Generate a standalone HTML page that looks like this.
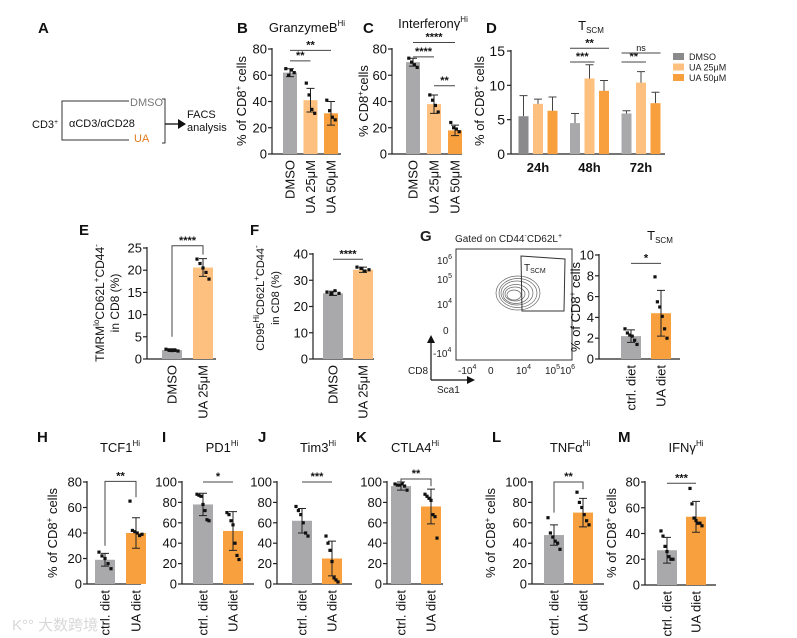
<!DOCTYPE html>
<html><head><meta charset="utf-8">
<style>
html,body{margin:0;padding:0;background:#fff;}
svg{display:block;font-family:"Liberation Sans",Arial,sans-serif;}
</style></head>
<body>
<svg id="fig" width="797" height="638" viewBox="0 0 797 638" xmlns="http://www.w3.org/2000/svg">
<g font-size="11" fill="#111">
  <text x="38" y="33" font-size="15" font-weight="bold">A</text>
  <text x="32" y="128">CD3<tspan font-size="7" dy="-4">+</tspan></text>
  <path d="M129,101 H62 V140 H129" fill="none" stroke="#333" stroke-width="1"/>
  <text x="69" y="127">αCD3/αCD28</text>
  <text x="130" y="106" fill="#777">DMSO</text>
  <text x="134" y="142" fill="#e07b1c">UA</text>
  <path d="M162,99 H165 V143 H162" fill="none" stroke="#333"/>
  <path d="M165,124 H178" stroke="#111" stroke-width="1.3"/>
  <path d="M178,119 L186,124 L178,129 Z" fill="#111"/>
  <text x="187" y="118">FACS</text>
  <text x="187" y="131">analysis</text>
</g>
<g font-size="10" fill="#222">
  <text x="420" y="241" font-size="15" font-weight="bold">G</text>
  <text x="455" y="242" font-size="10">Gated on CD44<tspan font-size="7" dy="-4">-</tspan><tspan dy="4">CD62L</tspan><tspan font-size="7" dy="-4">+</tspan></text>
  <rect x="456" y="249" width="116" height="111" fill="none" stroke="#333"/>
  <g fill="none" stroke="#666" stroke-width="0.7">
    <ellipse cx="518" cy="293" rx="22" ry="17"/><ellipse cx="518" cy="293" rx="19" ry="14.5"/>
    <ellipse cx="517" cy="293" rx="16" ry="12"/><ellipse cx="516" cy="294" rx="13" ry="9.5"/>
    <ellipse cx="515" cy="294" rx="10" ry="7"/><ellipse cx="514" cy="295" rx="7" ry="5"/>
  </g>
  <path d="M521,256 L565,259 L564,311 L522,311 Z" fill="none" stroke="#333"/>
  <text x="524" y="271" font-size="10">T<tspan font-size="7" dy="2">SCM</tspan></text>
  <text x="437" y="264">10<tspan font-size="7" dy="-5">6</tspan></text>
  <text x="437" y="283">10<tspan font-size="7" dy="-5">5</tspan></text>
  <text x="437" y="308">10<tspan font-size="7" dy="-5">4</tspan></text>
  <text x="443" y="334">0</text>
  <text x="433" y="357">-10<tspan font-size="7" dy="-5">4</tspan></text>
  <text x="458" y="374">-10<tspan font-size="7" dy="-5">4</tspan></text>
  <text x="488" y="374">0</text>
  <text x="516" y="374">10<tspan font-size="7" dy="-5">4</tspan></text>
  <text x="545" y="374">10<tspan font-size="7" dy="-5">5</tspan><tspan dy="5">10</tspan><tspan font-size="7" dy="-5">6</tspan></text>
  <path d="M431,380 V340" stroke="#111" stroke-width="1.2"/>
  <path d="M427,343 L431,335 L435,343 Z" fill="#111"/>
  <path d="M431,380 H470" stroke="#111" stroke-width="1.2"/>
  <path d="M467,376 L475,380 L467,384 Z" fill="#111"/>
  <text x="408" y="374">CD8</text>
  <text x="437" y="393">Sca1</text>
</g>
<text x="12" y="630" font-size="15" fill="#d8d8d8" font-family="'Liberation Sans','Noto Sans CJK SC',sans-serif">K°° 大数跨境</text>
</svg>
<script>
// ---------- data ----------
const bCats=["DMSO","UA 25μM","UA 50μM"];
const bVals=[62,41,31];
const bErr=[3,9,9];
const bPts=[[65,60,64,62],[54,45,34,31],[41,33,28,26]];
const cCats=["DMSO","UA 25μM","UA 50μM"];
const cVals=[70,38,18];
const cErr=[3,7,4];
const cPts=[[73,70,68,66],[45,41,37,32],[24,20,19,17]];
const dGroups=["24h","48h","72h"];
const dSeries=["DMSO","UA 25μM","UA 50μM"];
const dVals=[[5.5,7.3,6.3],[4.5,11,9.2],[5.9,10.4,7.4]];
const dErr=[[3,0.7,2],[1.4,2,1.5],[0.4,1.6,1.6]];
const eCats=["DMSO","UA 25μM"];
const eVals=[2,20.6];
const eErr=[0.3,2];
const ePts=[[2.2,2,1.9,2,1.8],[22.5,21.5,20.5,19.5,18]];
const fCats=["DMSO","UA 25μM"];
const fVals=[25,34];
const fErr=[0.8,1];
const fPts=[[25.5,25,26,25],[35,34.5,33.5,34]];
const gCats=["ctrl. diet","UA diet"];
const gVals=[2.2,4.4];
const gErr=[0.6,2.2];
const gPts=[[2.9,2.5,2.3,2.2,1.8,1.4],[7.9,5.5,5,4.1,2.9,2]];
const hCats=["ctrl. diet","UA diet"];
const hVals=[19,40];
const hErr=[5,12];
const hPts=[[25,22,20,16,12],[65,42,41,40,38,39]];
const iCats=["ctrl. diet","UA diet"];
const iVals=[78,52];
const iErr=[11,19];
const iPts=[[88,87,86,78,72,63,62],[70,68,62,58,40,28,24]];
const jCats=["ctrl. diet","UA diet"];
const jVals=[62,25];
const jErr=[12,17];
const jPts=[[76,72,68,60,50,47],[47,40,33,22,6,4,2]];
const kCats=["ctrl. diet","UA diet"];
const kVals=[96,76];
const kErr=[4,17];
const kPts=[[98,97,97,98,96,92],[88,86,84,82,68,66,45]];
const lCats=["ctrl. diet","UA diet"];
const lVals=[48,70];
const lErr=[10,14];
const lPts=[[65,50,46,42,40,34],[90,80,75,68,62,58]];
const mCats=["ctrl. diet","UA diet"];
const mVals=[27,53];
const mErr=[10,12];
const mPts=[[42,38,30,26,22,20,20],[75,63,52,50,48,48,46]];

const GRAY="#a9a9ac", LIGHT="#fdc07e", ORANGE="#f8a03e";
const NS="http://www.w3.org/2000/svg";
const svg=document.getElementById('fig');
function mk(tag,attrs,parent){const e=document.createElementNS(NS,tag);for(const k in attrs)e.setAttribute(k,attrs[k]);(parent||svg).appendChild(e);return e;}
function txt(parent,x,y,s,attrs){const t=mk('text',Object.assign({x:x,y:y},attrs||{}),parent);t.textContent=s;return t;}

function panel(cfg){
  const g=mk('g',{});
  
  
  const y=v=>cfg.y0-(v/cfg.max)*(cfg.y0-cfg.yTop);
  const xc=i=>cfg.x0+cfg.pad+i*cfg.step;
  const ya=mk('line',{x1:cfg.x0,y1:cfg.yTop-1,x2:cfg.x0,y2:cfg.y0,stroke:'#222','stroke-width':1.2},g);
  
  
  const xa=mk('line',{x1:cfg.x0,y1:cfg.y0,x2:cfg.x1,y2:cfg.y0,stroke:'#222','stroke-width':1.2},g);
  
  
  cfg.ticks.forEach(t=>{
    const l=mk('line',{x1:cfg.x0-4,y1:y(t),x2:cfg.x0,y2:y(t),stroke:'#222','stroke-width':1.2},g);
    
    
    const tl=txt(g,cfg.x0-5,y(t)+4.5,String(t),{'font-size':cfg.fs||13,'text-anchor':'end',fill:'#111'});
    
    
  });
  cfg.vals.forEach((v,i)=>{
    const cx=xc(i), w=cfg.bw;
    const r=mk('rect',{x:cx-w/2,y:y(v),width:w,height:cfg.y0-y(v),fill:cfg.colors[i]},g);
    
    
    const e=cfg.err[i];
    const ep=mk('path',{d:`M${cx},${y(v-e)}V${y(v+e)}M${cx-4},${y(v+e)}H${cx+4}M${cx-4},${y(v-e)}H${cx+4}`,stroke:'#222','stroke-width':1,fill:'none'},g);
    
    
    const pts=cfg.pts[i];
    pts.forEach((p,k)=>{
      const off=(k-(pts.length-1)/2)*(w*0.6/Math.max(pts.length-1,1));
      const d=mk('rect',{x:cx+off-1.6,y:y(p)-1.6,width:3.2,height:3.2,fill:'#111'},g);
      
      
    });
    const lab=txt(g,0,0,cfg.cats[i],{'font-size':cfg.fs||13,'text-anchor':'end',fill:'#111',transform:`translate(${cx+4.5},${cfg.y0+6}) rotate(-90)`});
    
    
  });
  (cfg.sig||[]).forEach(s=>{
    const a=xc(s[0]), b=xc(s[1]), yy=y(s[2]);
    let d=`M${a},${yy}H${b}`;
    if(s[4]) d=`M${a},${y(s[4])}V${yy}H${b}V${y(s[5])}`;
    const p=mk('path',{d:d,stroke:'#444','stroke-width':1,fill:'none'},g);
    
    
    const t=txt(g,(a+b)/2,yy-2,s[3],{'font-size':11,'text-anchor':'middle',fill:'#111','font-weight':'bold'});
    
    
  });
  return g;
}
function title(x,y,main,sup,name,sub){
  const t=mk('text',{x:x,y:y,'font-size':13,'text-anchor':'middle',fill:'#111'});
  
  
  t.appendChild(document.createTextNode(main));
  const ts=mk('tspan',{'font-size':8,dy:sub?3:-6},t);ts.textContent=sup;
}
function letter(x,y,s){const t=txt(svg,x,y,s,{'font-size':15,'font-weight':'bold',fill:'#111'});
  
  }
function ylab(x,cy,name,lines,fs){
  const t=mk('text',{'font-size':fs||13,'text-anchor':'middle',fill:'#111',transform:`translate(${x},${cy}) rotate(-90)`});
  
  
  lines.forEach(seg=>{const s=mk('tspan',seg[1]?{'font-size':8,dy:-5}:{dy:seg[2]||0},t);s.textContent=seg[0];});
}
const pct=[["% of CD8"],["+",1],[" cells",0,5]];

letter(237,33,"B"); title(307,32,"GranzymeB","Hi","title-b");
panel({name:'panel-b-granzyme',cats:bCats,vals:bVals,err:bErr,pts:bPts,x0:272,x1:341,pad:18,step:20.5,bw:14,y0:154,yTop:49,max:80,ticks:[0,20,40,60,80],colors:[GRAY,LIGHT,ORANGE],
 sig:[[0,1,71,"**"],[0,2,79,"**"]]});
ylab(246,101,'y-axis-title-b',pct);
letter(363,33,"C"); title(433,28,"Interferonγ","Hi","title-c");
panel({name:'panel-c-interferon',cats:cCats,vals:cVals,err:cErr,pts:cPts,x0:392,x1:462,pad:21,step:21,bw:14,y0:154,yTop:49,max:80,ticks:[0,20,40,60,80],colors:[GRAY,LIGHT,ORANGE],
 sig:[[0,2,85,"****"],[0,1,74,"****"],[1,2,52,"**"]]});
ylab(368,101,'y-axis-title-c',[["% CD8"],["+",1],["cells",0,5]]);
letter(486,33,"D");
(function(){
  const g=mk('g',{});
  
  
  const x0=511,x1=665,y0=154,yTop=51,max=15,pad=27,gstep=51.5,off=14.5,bw=10;
  const y=v=>y0-(v/max)*(y0-yTop);
  const cols=[["#8a8a8c",LIGHT,ORANGE],[GRAY,LIGHT,ORANGE],[GRAY,LIGHT,ORANGE]];
  mk('line',{x1:x0,y1:yTop-1,x2:x0,y2:y0,stroke:'#222','stroke-width':1.2},g);
  mk('line',{x1:x0,y1:y0,x2:x1,y2:y0,stroke:'#222','stroke-width':1.2},g);
  [0,5,10,15].forEach(t=>{mk('line',{x1:x0-4,y1:y(t),x2:x0,y2:y(t),stroke:'#222','stroke-width':1.2},g);
    txt(g,x0-6,y(t)+5,String(t),{'font-size':14,'text-anchor':'end',fill:'#111'});});
  dGroups.forEach((gr,gi)=>{
    const gc=x0+pad+gi*gstep;
    const gl=txt(g,gc,y0+18,gr,{'font-size':13,'text-anchor':'middle',fill:'#111','font-weight':'bold'});
    
    
    dVals[gi].forEach((v,k)=>{
      const cx=gc+(k-1)*off;
      const r=mk('rect',{x:cx-bw/2,y:y(v),width:bw,height:y0-y(v),fill:cols[gi][k]},g);
      
      
      const e=dErr[gi][k];
      const p=mk('path',{d:`M${cx},${y(v)}V${y(v+e)}M${cx-4},${y(v+e)}H${cx+4}`,stroke:'#444','stroke-width':1,fill:'none'},g);
      
      
    });
  });
  const sig=[[1,0,1,13.4,"***"],[1,0,2,15.4,"**"],[2,0,1,13.4,"**"],[2,0,2,14.7,"ns"]];
  sig.forEach(s=>{const gc=x0+pad+s[0]*gstep;const a=gc+(s[1]-1)*off-5,b=gc+(s[2]-1)*off+5;
    const p=mk('line',{x1:a,y1:y(s[3]),x2:b,y2:y(s[3]),stroke:'#444'},g);
    
    
    txt(g,(a+b)/2,y(s[3])-2,s[4],{'font-size':s[4]=="ns"?9:11,'text-anchor':'middle',fill:'#111','font-weight':s[4]=="ns"?'normal':'bold'});});
  dSeries.forEach((s,k)=>{
    const ly=57+k*10.5;
    const sw=mk('rect',{x:673,y:ly-4,width:11,height:7,fill:[ "#8a8a8c",LIGHT,ORANGE][k]},g);
    
    
    const lt=txt(g,689,ly+3,s,{'font-size':9,fill:'#222'});
    
    
  });
})();
title(591,30,"T","SCM","title-d",true);
ylab(484,101,'y-axis-title-d',pct);
letter(79,235,"E");
panel({name:'panel-e-tmrm',cats:eCats,vals:eVals,err:eErr,pts:ePts,x0:147,x1:216,pad:25,step:31,bw:20,y0:359,yTop:248,max:25,ticks:[0,5,10,15,20,25],colors:[GRAY,LIGHT],
 sig:[[0,1,25.5,"****",5,23.5]]});
ylab(104,303,'y-axis-title-e',[["TMRM"],["lo",1],["CD62L",0,5],["+",1],["CD44",0,5],["-",1]],12);
ylab(119,303,'y-axis-title-e2',[["in CD8 (%)"]],12);
letter(250,235,"F");
panel({name:'panel-f-cd95',cats:fCats,vals:fVals,err:fErr,pts:fPts,x0:313,x1:374,pad:20,step:30,bw:20,y0:359,yTop:254,max:40,ticks:[0,10,20,30,40],colors:[GRAY,LIGHT],
 sig:[[0,1,38,"****"]]});
ylab(264,298,'y-axis-title-f',[["CD95"],["Hi",1],["CD62L",0,5],["+",1],["CD44",0,5],["-",1]],11);
ylab(279,298,'y-axis-title-f2',[["in CD8 (%)"]],11);
title(660,240,"T","SCM","title-g",true);
panel({name:'panel-g-tscm-diet',cats:gCats,vals:gVals,err:gErr,pts:gPts,x0:599,x1:680,pad:32,step:30,bw:20,y0:359,yTop:255,max:10,ticks:[0,2,4,6,8,10],colors:[GRAY,ORANGE],
 sig:[[0,1,9.2,"*"]]});
ylab(580,307,'y-axis-title-g',pct);
letter(37,442,"H"); title(120,452,"TCF1","Hi","title-h");
panel({name:'panel-h-tcf1',cats:hCats,vals:hVals,err:hErr,pts:hPts,x0:87,x1:141,pad:18,step:31,bw:20,y0:584,yTop:482,max:80,ticks:[0,20,40,60,80],colors:[GRAY,ORANGE],
 sig:[[0,1,80.5,"**",30,68]]});
ylab(57,533,'y-axis-title-h',pct);
letter(162,442,"I"); title(222,452,"PD1","Hi","title-i");
panel({name:'panel-i-pd1',cats:iCats,vals:iVals,err:iErr,pts:iPts,x0:182,x1:254,pad:21,step:30,bw:20,y0:584,yTop:482,max:100,ticks:[0,20,40,60,80,100],colors:[GRAY,ORANGE],
 sig:[[0,1,100,"*"]]});
letter(258,442,"J"); title(318,452,"Tim3","Hi","title-j");
panel({name:'panel-j-tim3',cats:jCats,vals:jVals,err:jErr,pts:jPts,x0:277,x1:352,pad:25,step:30,bw:20,y0:584,yTop:482,max:100,ticks:[0,20,40,60,80,100],colors:[GRAY,ORANGE],
 sig:[[0,1,100,"***"]]});
letter(356,442,"K"); title(415,452,"CTLA4","Hi","title-k");
panel({name:'panel-k-ctla4',cats:kCats,vals:kVals,err:kErr,pts:kPts,x0:387,x1:443,pad:14,step:30,bw:20,y0:584,yTop:482,max:100,ticks:[0,20,40,60,80,100],colors:[GRAY,ORANGE],
 sig:[[0,1,103,"**",99,96]]});
letter(492,442,"L"); title(570,452,"TNFα","Hi","title-l");
panel({name:'panel-l-tnfa',cats:lCats,vals:lVals,err:lErr,pts:lPts,x0:532,x1:604,pad:22,step:29,bw:20,y0:584,yTop:482,max:100,ticks:[0,20,40,60,80,100],colors:[GRAY,ORANGE],
 sig:[[0,1,100,"**",70,93]]});
ylab(495,533,'y-axis-title-l',pct);
letter(618,442,"M"); title(686,452,"IFNγ","Hi","title-m");
panel({name:'panel-m-ifng',cats:mCats,vals:mVals,err:mErr,pts:mPts,x0:645,x1:716,pad:22,step:29,bw:20,y0:585,yTop:482,max:80,ticks:[0,20,40,60,80],colors:[GRAY,ORANGE],
 sig:[[0,1,79,"***"]]});
ylab(616,533,'y-axis-title-m',pct);
</script>
</body></html>
